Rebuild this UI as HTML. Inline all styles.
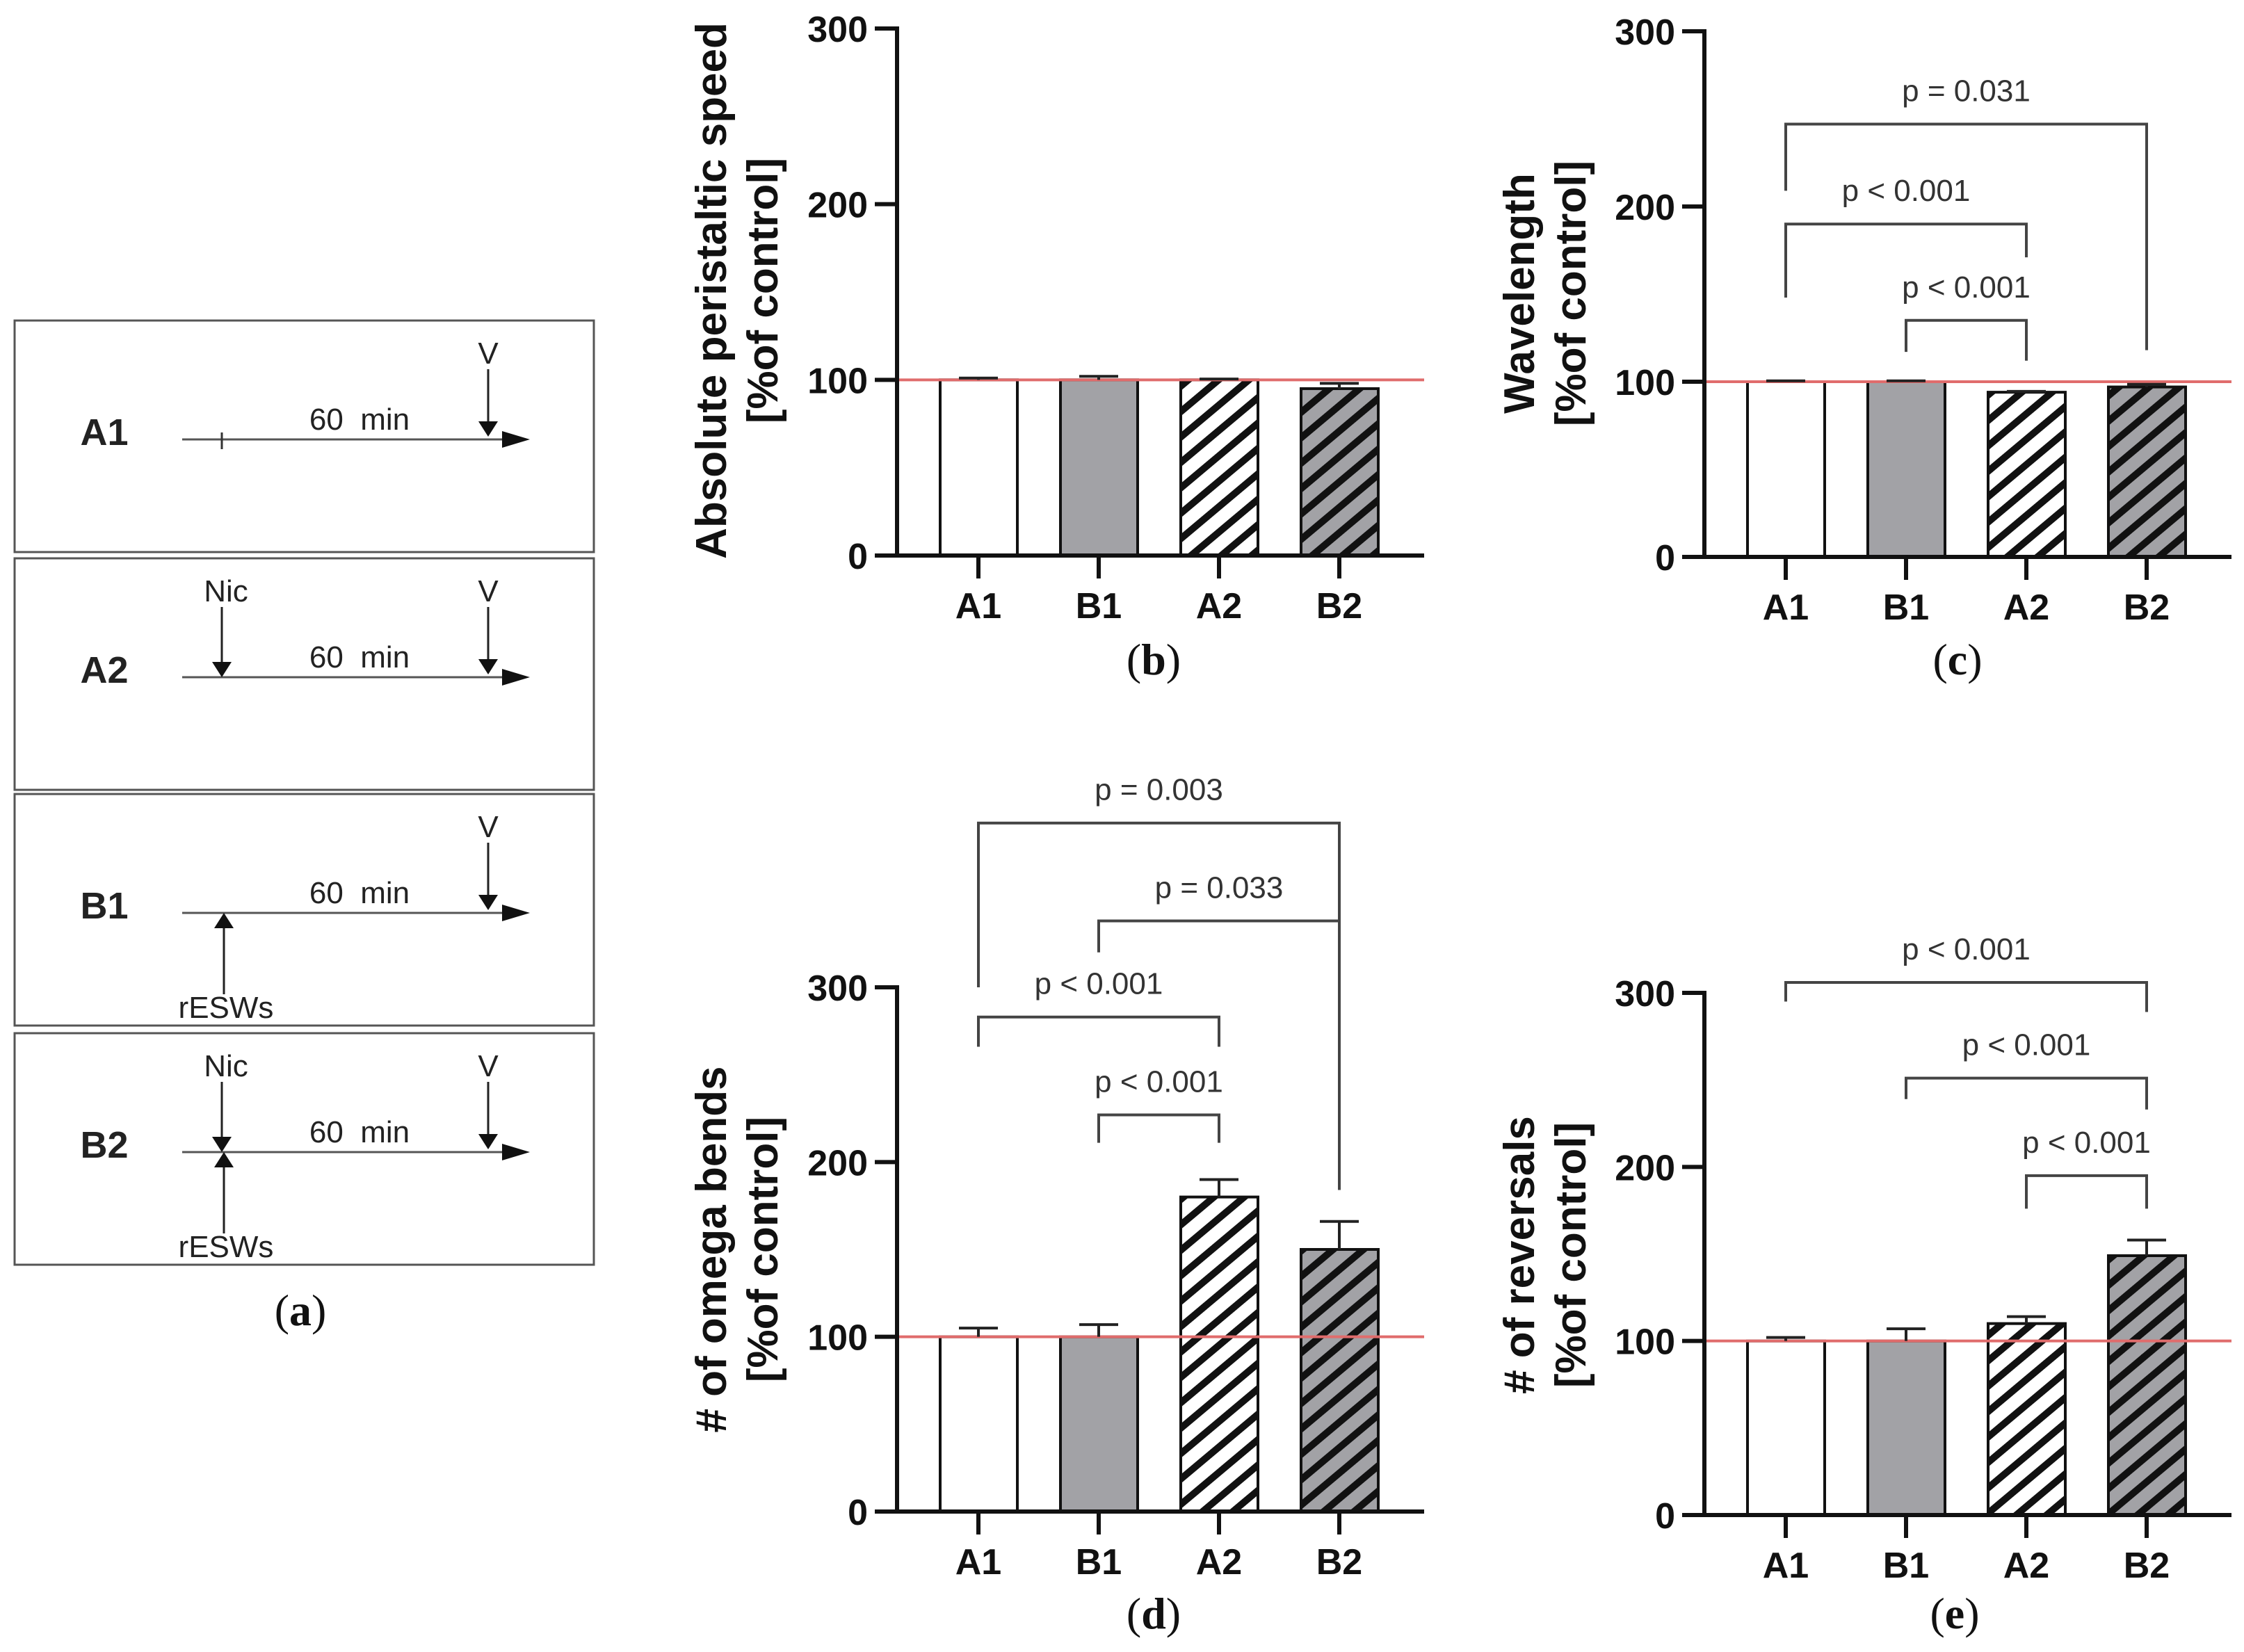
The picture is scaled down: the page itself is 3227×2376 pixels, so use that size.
<!DOCTYPE html>
<html><head><meta charset="utf-8"><style>
html,body{margin:0;padding:0;background:#fff;}
svg{display:block;}
text{font-family:"Liberation Sans",Arial,sans-serif;}
.tick{font-weight:bold;font-size:52px;fill:#111;}
.ptxt{font-size:44px;fill:#333;}
.ytitle{font-weight:bold;font-size:62px;fill:#111;}
.plabel{font-family:"Liberation Serif",serif;font-size:64px;fill:#111;}
.dia{font-size:44px;fill:#222;}
.dlab{font-size:54px;font-weight:bold;fill:#222;}
</style></head><body>
<svg id="fig" width="3227" height="2376" viewBox="0 0 3227 2376" xmlns="http://www.w3.org/2000/svg">
<defs>
<pattern id="hatchW" patternUnits="userSpaceOnUse" width="28" height="28" patternTransform="rotate(-40)">
<rect width="28" height="28" fill="#fff"/><rect width="28" height="10" fill="#111"/></pattern>
<pattern id="hatchG" patternUnits="userSpaceOnUse" width="28" height="28" patternTransform="rotate(-40)">
<rect width="28" height="28" fill="#a2a2a6"/><rect width="28" height="10" fill="#111"/></pattern>
</defs>
<g id="panelA"></g>
<g id="charts"></g>
</svg>
<script>
const categories=['A1','B1','A2','B2'];
const yTicks=[0,100,200,300];
const speedValues=[100,100,100,95];
const speedErrors=[1,2,0.5,3];
const waveValues=[100,100,94,97];
const waveErrors=[0.5,0.5,0.5,1.5];
const omegaValues=[100,100,180,150];
const omegaErrors=[5,7,10,16];
const revValues=[100,100,110,149];
const revErrors=[2,7,4,9];
// brackets: [fromIdx,toIdx,barValue,leftLegEnd,rightLegEnd,label]
const waveBrackets=[[0,3,247,209,118,'p = 0.031'],[0,2,190,148,171,'p < 0.001'],[1,2,135,117,112,'p < 0.001']];
const omegaBrackets=[[0,3,394,300,188,'p = 0.003'],[1,3,338,320,184,'p = 0.033'],[0,2,283,266,266,'p < 0.001'],[1,2,227,211,211,'p < 0.001']];
const revBrackets=[[0,3,306,295,289,'p < 0.001'],[1,3,251,239,233,'p < 0.001'],[2,3,195,176,176,'p < 0.001']];

const NS='http://www.w3.org/2000/svg';
function mk(parent,tag,attrs,txt){const e=document.createElementNS(NS,tag);for(const k in attrs)e.setAttribute(k,attrs[k]);if(txt!==undefined)e.textContent=txt;parent.appendChild(e);return e;}
const fills=['#ffffff','#a2a2a6','url(#hatchW)','url(#hatchG)'];

function chart(cfg,values,errors,brackets){
  const g=mk(document.getElementById('charts'),'g',{});
  
  
  const k=(cfg.base-cfg.top)/300;
  const y=v=>cfg.base-v*k;
  const x=i=>cfg.ax+117+173*i;
  const right=cfg.ax+758;
  values.forEach((v,i)=>{
    const r=mk(g,'rect',{x:x(i)-55,y:y(v),width:111,height:cfg.base-y(v),fill:fills[i],stroke:'#111','stroke-width':4});
    
    
  });
  const rl=mk(g,'line',{x1:cfg.ax,x2:right,y1:y(100),y2:y(100),stroke:'#e06c6c','stroke-width':4});
  
  
  values.forEach((v,i)=>{
    const eg=mk(g,'g',{stroke:'#222','stroke-width':4});
    
    
    mk(eg,'line',{x1:x(i),x2:x(i),y1:y(v),y2:y(v+errors[i])});
    mk(eg,'line',{x1:x(i)-28,x2:x(i)+28,y1:y(v+errors[i]),y2:y(v+errors[i])});
  });
  const axg=mk(g,'g',{stroke:'#111','stroke-width':6});
  
  
  mk(axg,'line',{x1:cfg.ax,x2:cfg.ax,y1:cfg.top-3,y2:cfg.base+3});
  mk(axg,'line',{x1:cfg.ax-32,x2:right,y1:cfg.base,y2:cfg.base});
  yTicks.forEach(t=>{
    mk(axg,'line',{x1:cfg.ax-32,x2:cfg.ax,y1:y(t),y2:y(t)});
    const tl=mk(g,'text',{x:cfg.ax-42,y:y(t)+19,'text-anchor':'end',class:'tick'},String(t));
    
    
  });
  categories.forEach((c,i)=>{
    mk(axg,'line',{x1:x(i),x2:x(i),y1:cfg.base,y2:cfg.base+33});
    const tl=mk(g,'text',{x:x(i),y:cfg.base+90,'text-anchor':'middle',class:'tick'},c);
    
    
  });
  const yt=mk(g,'text',{transform:`translate(${cfg.tx},${cfg.ty}) rotate(-90)`,'text-anchor':'middle',class:'ytitle'});
  
  
  mk(yt,'tspan',{x:0,y:0},cfg.title);
  mk(yt,'tspan',{x:0,y:74},'[%of control]');
  brackets.forEach(b=>{
    const bg=mk(g,'g',{});
    
    
    const x1=x(b[0]),x2=x(b[1]),yy=y(b[2]);
    mk(bg,'path',{d:`M${x1},${y(b[3])} V${yy} H${x2} V${y(b[4])}`,fill:'none',stroke:'#444','stroke-width':4});
    mk(bg,'text',{x:(x1+x2)/2,y:yy-33,'text-anchor':'middle',class:'ptxt'},b[5]);
  });
  const pl=mk(g,'text',{x:cfg.lx,y:cfg.ly,'text-anchor':'middle',class:'plabel'});
  
  
  pl.innerHTML='(<tspan font-weight="bold">'+cfg.letter+'</tspan>)';
}
chart({name:'chart-peristaltic-speed',ax:1290,base:799,top:41,title:'Absolute peristaltic speed',tx:1044,ty:418,lx:1659,ly:970,letter:'b'},speedValues,speedErrors,[]);
chart({name:'chart-wavelength',ax:2451,base:801,top:45,title:'Wavelength',tx:2206,ty:422,lx:2815,ly:970,letter:'c'},waveValues,waveErrors,waveBrackets);
chart({name:'chart-omega-bends',ax:1290,base:2174,top:1420,title:'# of omega bends',tx:1044,ty:1797,lx:1659,ly:2342,letter:'d'},omegaValues,omegaErrors,omegaBrackets);
chart({name:'chart-reversals',ax:2451,base:2179,top:1428,title:'# of reversals',tx:2206,ty:1805,lx:2811,ly:2342,letter:'e'},revValues,revErrors,revBrackets);

const pa=document.getElementById('panelA');
const boxes=[{t:461,lab:'A1',nic:false,esw:false},{t:803,lab:'A2',nic:true,esw:false},{t:1142,lab:'B1',nic:false,esw:true},{t:1486,lab:'B2',nic:true,esw:true}];
function arrowDown(g,x,y1,y2){mk(g,'line',{x1:x,x2:x,y1:y1,y2:y2-18,stroke:'#222','stroke-width':3});mk(g,'polygon',{points:`${x-14},${y2-22} ${x+14},${y2-22} ${x},${y2}`,fill:'#111'});}
function arrowUp(g,x,y1,y2){mk(g,'line',{x1:x,x2:x,y1:y1,y2:y2+18,stroke:'#222','stroke-width':3});mk(g,'polygon',{points:`${x-14},${y2+22} ${x+14},${y2+22} ${x},${y2}`,fill:'#111'});}
boxes.forEach(b=>{
  const g=mk(pa,'g',{});
  
  
  const ly=b.t+171;
  mk(g,'rect',{x:21,y:b.t,width:833,height:333,fill:'#fff',stroke:'#555','stroke-width':3});
  mk(g,'text',{x:150,y:ly+8,'text-anchor':'middle',class:'dlab'},b.lab);
  mk(g,'line',{x1:262,x2:730,y1:ly,y2:ly,stroke:'#555','stroke-width':3});
  mk(g,'polygon',{points:`${722},${ly-12} ${762},${ly} ${722},${ly+12}`,fill:'#111'});
  mk(g,'text',{x:517,y:ly-14,'text-anchor':'middle',class:'dia','xml:space':'preserve'},'60\u00a0\u00a0min');
  mk(g,'text',{x:702,y:b.t+62,'text-anchor':'middle',class:'dia'},'V');
  arrowDown(g,702,b.t+70,ly-4);
  if(!b.nic&&!b.esw) mk(g,'line',{x1:319,x2:319,y1:ly-10,y2:ly+14,stroke:'#333','stroke-width':3});
  if(b.nic){mk(g,'text',{x:325,y:b.t+62,'text-anchor':'middle',class:'dia'},'Nic');arrowDown(g,319,b.t+70,ly);}
  if(b.esw){mk(g,'text',{x:325,y:b.t+322,'text-anchor':'middle',class:'dia'},'rESWs');arrowUp(g,322,b.t+288,ly);}
});
const al=mk(pa,'text',{x:432,y:1906,'text-anchor':'middle',class:'plabel'});


al.innerHTML='(<tspan font-weight="bold">a</tspan>)';
</script>
</body></html>
